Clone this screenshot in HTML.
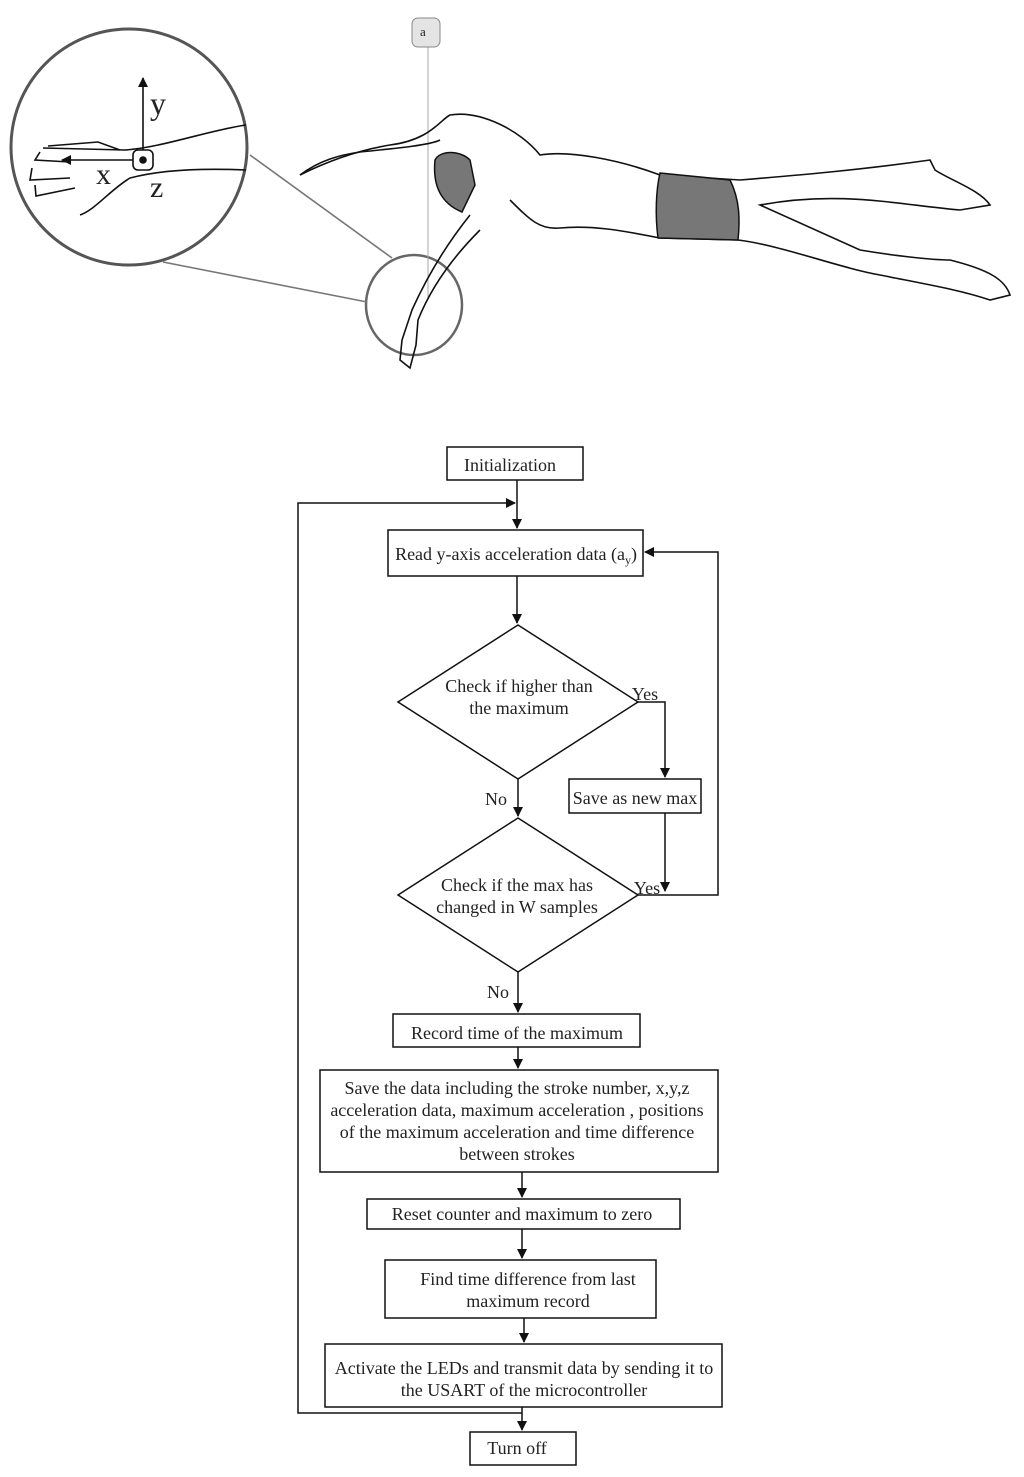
<!DOCTYPE html>
<html><head><meta charset="utf-8"><style>
html,body{margin:0;padding:0;background:#fff;width:1024px;height:1477px;overflow:hidden}
svg{display:block}
text{font-family:"Liberation Serif",serif;font-size:18px;fill:#222}
</style></head><body>
<svg width="1024" height="1477" viewBox="0 0 1024 1477" xmlns="http://www.w3.org/2000/svg">
<defs><marker id="a" markerWidth="10" markerHeight="10" refX="9" refY="5" orient="auto" markerUnits="userSpaceOnUse"><path d="M0,0 L10,5 L0,10 z" fill="#111"/></marker></defs>
<g fill="none" stroke="#111" stroke-width="1.6">
<circle cx="129" cy="147" r="118" stroke="#555" stroke-width="3"/>
<ellipse cx="414" cy="305" rx="48" ry="50" stroke="#666" stroke-width="2.5"/>
<line x1="250" y1="155" x2="392" y2="258" stroke="#777"/>
<line x1="163" y1="262" x2="367" y2="302" stroke="#777"/>
<line x1="428" y1="47" x2="428" y2="300" stroke="#aaa" stroke-width="1"/>
<rect x="412" y="18" width="28" height="29" rx="6" fill="#e4e4e4" stroke="#888" stroke-width="1"/>
<path d="M246 125 C210 130 160 148 125 150 L43 148 M246 170 C200 168 160 170 130 178 C110 190 95 210 80 215"/>
<path d="M40 152 L35 160 L70 162 M32 168 L30 180 L70 178 M35 185 L36 196 L75 188 M120 150 L98 142 L48 146"/>
<line x1="143" y1="160" x2="143" y2="78" marker-end="url(#a)"/>
<line x1="140" y1="160" x2="62" y2="160" marker-end="url(#a)"/>
<rect x="133" y="150" width="20" height="20" rx="5" fill="#fff"/>
<circle cx="143" cy="160" r="3" fill="#111"/>
<path d="M300 175 C330 160 360 150 390 145 C430 140 440 120 450 115 C480 110 520 130 540 155 C570 150 620 160 660 175 L740 180 C800 175 860 170 930 160 L935 170 C950 180 980 190 990 205 L960 210 C900 205 840 190 760 205 L860 250 C890 255 930 260 950 260 C990 270 1005 280 1010 295 L990 300 C960 290 930 285 880 275 C840 268 780 245 738 240 L660 238 C620 230 590 225 560 228 C540 230 530 220 510 200"/>
<path d="M300 175 C320 160 340 155 360 152 C400 148 430 145 440 140"/>
<path d="M470 215 C450 240 430 270 412 310 L402 340 L400 360 L410 368 L416 345 L418 320 C430 290 450 260 480 230"/>
</g>
<path d="M435 160 C440 150 460 150 470 160 L475 185 L462 212 C445 205 432 190 435 160 z" fill="#777" stroke="#111" stroke-width="1.5"/>
<path d="M660 173 L730 180 C740 200 740 220 738 240 L658 238 C655 215 656 190 660 173 z" fill="#777" stroke="#111" stroke-width="1.5"/>
<text x="96" y="184" style="font-size:30px">x</text>
<text x="150" y="114" style="font-size:32px">y</text>
<text x="150" y="197" style="font-size:30px">z</text>
<text x="420" y="36" style="font-size:13px">a</text>
<g fill="none" stroke="#111" stroke-width="1.5">
<rect x="447" y="447" width="136" height="33"/>
<rect x="388" y="530" width="255" height="46"/>
<polygon points="518,625 638,702 518,779 398,702"/>
<rect x="569" y="779" width="132" height="34"/>
<polygon points="518,818 638,895 518,972 398,895"/>
<rect x="393" y="1014" width="247" height="33"/>
<rect x="320" y="1070" width="398" height="102"/>
<rect x="367" y="1199" width="313" height="30"/>
<rect x="385" y="1260" width="271" height="58"/>
<rect x="325" y="1344" width="397" height="63"/>
<rect x="470" y="1432" width="106" height="33"/>
<line x1="517" y1="480" x2="517" y2="528" marker-end="url(#a)"/>
<polyline points="522,1413 298,1413 298,503 515,503" marker-end="url(#a)"/>
<line x1="517" y1="576" x2="517" y2="623" marker-end="url(#a)"/>
<polyline points="638,702 665,702 665,777" marker-end="url(#a)"/>
<line x1="665" y1="813" x2="665" y2="891" marker-end="url(#a)"/>
<polyline points="638,895 718,895 718,552 645,552" marker-end="url(#a)"/>
<line x1="518" y1="779" x2="518" y2="816" marker-end="url(#a)"/>
<line x1="518" y1="972" x2="518" y2="1012" marker-end="url(#a)"/>
<line x1="518" y1="1047" x2="518" y2="1068" marker-end="url(#a)"/>
<line x1="522" y1="1172" x2="522" y2="1197" marker-end="url(#a)"/>
<line x1="522" y1="1229" x2="522" y2="1258" marker-end="url(#a)"/>
<line x1="524" y1="1318" x2="524" y2="1342" marker-end="url(#a)"/>
<line x1="522" y1="1407" x2="522" y2="1430" marker-end="url(#a)"/>
</g>
<g text-anchor="middle">
<text x="510" y="471">Initialization</text>
<text x="516" y="560">Read y-axis acceleration data (a<tspan style="font-size:12px" dy="4">y</tspan><tspan dy="-4">)</tspan></text>
<text x="519" y="692">Check if higher than</text>
<text x="519" y="714">the maximum</text>
<text x="635" y="804">Save as new max</text>
<text x="517" y="891">Check if the max has</text>
<text x="517" y="913">changed in W samples</text>
<text x="517" y="1039">Record time of the maximum</text>
<text x="517" y="1094">Save the data including the stroke number, x,y,z</text>
<text x="517" y="1116">acceleration data,  maximum acceleration , positions</text>
<text x="517" y="1138">of the maximum acceleration and time difference</text>
<text x="517" y="1160">between strokes</text>
<text x="522" y="1220">Reset counter and maximum to zero</text>
<text x="528" y="1285">Find time difference from last</text>
<text x="528" y="1307">maximum record</text>
<text x="524" y="1374">Activate the LEDs and transmit data by sending it to</text>
<text x="524" y="1396">the USART of the microcontroller</text>
<text x="517" y="1454">Turn off</text>
<text x="645" y="700">Yes</text>
<text x="647" y="894">Yes</text>
<text x="496" y="805">No</text>
<text x="498" y="998">No</text>
</g>
</svg>
</body></html>
